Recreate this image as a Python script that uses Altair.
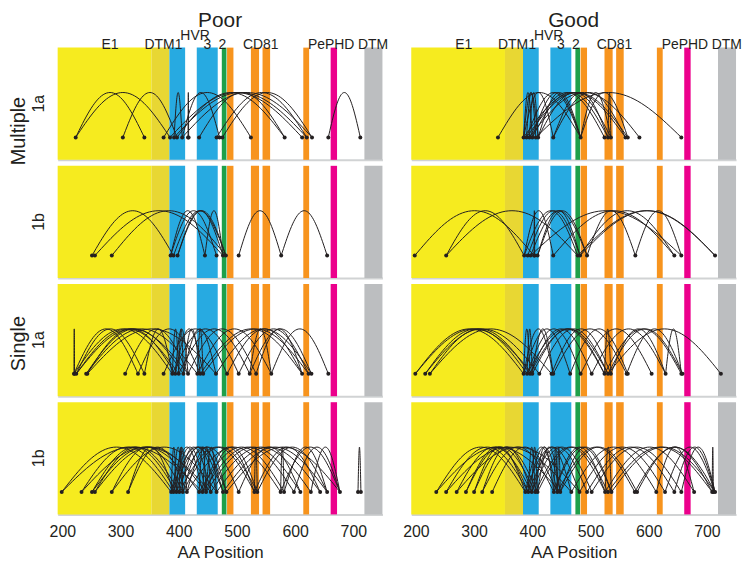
import altair as alt
import numpy as np
import pandas as pd

FONT = "Liberation Sans"
INK = "#231F20"

# ---------------- data ----------------
aa_domain = [192, 750]
tick_values = [200, 300, 400, 500, 600, 700]

region_names = ["E1", "E1 TM", "HVR1", "HVR3", "HVR2", "CD81 a", "CD81 b", "CD81 c", "CD81 d", "PePHD", "E2 TM"]
region_start = [192, 353, 384, 431, 474, 483, 524, 544, 614, 661, 719]
region_end = [353, 384, 411, 467, 482, 494, 538, 557, 624, 672, 750]
region_colors = ["#F6EB1F", "#E8D733", "#27AAE1", "#27AAE1", "#1EA04A", "#F7941E", "#F7941E",
                 "#F7941E", "#F7941E", "#EC008C", "#BCBEC0"]

label_text = ["E1", "DTM", "1", "HVR", "3", "2", "CD81", "PePHD", "DTM"]
label_pos = [282, 367, 400, 428, 449, 475, 541, 662, 734]
label_tier = [0, 0, 0, 1, 0, 0, 0, 0, 0]

col_titles = ["Poor", "Good"]
row_labels = ["1a", "1b", "1a", "1b"]
group_labels = ["Multiple", "Single"]

poor_multiple_1a = [(223, 341), (223, 385), (304, 397), (392, 406), (416, 417), (406, 470), (374, 524),
                    (397, 582), (385, 612), (392, 620), (406, 629), (435, 582), (465, 620), (475, 629),
                    (657, 712)]
poor_multiple_1b = [(251, 391), (256, 476), (285, 481), (386, 465), (391, 481), (398, 476), (445, 476),
                    (386, 445), (503, 576), (576, 655), (398, 481)]
poor_single_1a = [(220, 221), (220, 330), (224, 341), (220, 389), (224, 400), (241, 408), (243, 394),
                  (241, 432), (243, 464), (308, 416), (330, 437), (374, 483), (389, 503), (394, 442),
                  (400, 522), (408, 437), (416, 533), (432, 559), (437, 612), (442, 623), (464, 628),
                  (483, 612), (503, 623), (522, 628), (533, 612), (559, 657), (522, 559), (408, 464),
                  (224, 416), (341, 389), (389, 400), (394, 416), (432, 442), (400, 408)]
poor_single_1b = [(199, 387), (233, 391), (251, 396), (256, 401), (251, 435), (256, 447), (285, 407),
                  (285, 465), (313, 414), (233, 455), (199, 441), (387, 476), (391, 482), (396, 503),
                  (401, 530), (407, 535), (414, 575), (387, 441), (391, 447), (396, 455), (401, 465),
                  (407, 476), (414, 482), (435, 581), (441, 598), (447, 609), (455, 627), (465, 643),
                  (476, 655), (482, 677), (503, 609), (530, 643), (535, 655), (575, 677), (581, 655),
                  (598, 677), (627, 677), (708, 713), (313, 391), (441, 530), (447, 535),
                  (387, 396), (391, 407), (396, 414), (401, 407), (435, 447), (441, 455), (447, 465),
                  (530, 535), (575, 581)]
good_multiple_1a = [(341, 483), (385, 436), (390, 483), (395, 524), (400, 530), (406, 656), (410, 535),
                    (385, 560), (390, 564), (395, 584), (400, 483), (410, 483), (436, 530), (436, 560),
                    (483, 535), (483, 564), (530, 535), (385, 410), (385, 400), (390, 406), (395, 410)]
good_multiple_1b = [(198, 403), (252, 386), (252, 478), (386, 478), (392, 482), (397, 494), (403, 404),
                    (409, 482), (386, 436), (436, 644), (478, 714), (494, 577), (577, 656), (482, 644),
                    (397, 656), (409, 494), (482, 714)]
good_single_1a = [(199, 385), (216, 391), (224, 396), (199, 400), (216, 412), (224, 433), (385, 465),
                  (391, 483), (396, 502), (400, 524), (412, 530), (433, 535), (436, 562), (465, 564),
                  (483, 605), (502, 629), (524, 656), (530, 658), (535, 629), (562, 658), (629, 656),
                  (530, 724), (400, 436), (385, 436), (391, 524), (396, 530), (385, 396), (391, 400),
                  (524, 535)]
good_single_1b = [(235, 388), (252, 393), (270, 399), (286, 405), (300, 409), (314, 437), (331, 443),
                  (235, 448), (252, 467), (270, 481), (286, 393), (300, 388), (314, 399), (388, 481),
                  (393, 494), (399, 502), (405, 525), (409, 530), (437, 536), (443, 576), (448, 580),
                  (467, 613), (481, 628), (494, 644), (502, 656), (525, 678), (530, 709), (536, 714),
                  (576, 714), (580, 709), (613, 678), (628, 714), (644, 714), (656, 714), (709, 711),
                  (388, 443), (393, 448), (399, 467), (405, 437), (409, 448), (437, 525), (448, 536),
                  (437, 443), (443, 448), (525, 536), (393, 405), (399, 409)]

panels = [
    [poor_multiple_1a, good_multiple_1a],
    [poor_multiple_1b, good_multiple_1b],
    [poor_single_1a, good_single_1a],
    [poor_single_1b, good_single_1b],
]

# ---------------- layout / style ----------------
W, H = 327, 113
BASE, RISE = 0.2, 0.4
N_SEG = 40

band_df = pd.DataFrame({"region": region_names, "start": region_start, "end": region_end})
label_df = pd.DataFrame({"label": label_text, "pos": label_pos, "tier": label_tier})


def arc_frame(pairs):
    rows = []
    t = np.linspace(0, 1, N_SEG + 1)
    for i, (a, b) in enumerate(pairs):
        xs = a + (b - a) * t
        ys = BASE + RISE * np.sin(np.pi * t)
        for k in range(len(t)):
            rows.append({"arc": i, "t": float(t[k]), "x": float(xs[k]), "y": float(ys[k])})
    return pd.DataFrame(rows)


def dot_frame(pairs):
    pts = sorted(set([p for pair in pairs for p in pair]))
    return pd.DataFrame({"x": pts, "y": [BASE] * len(pts)})


xscale = alt.Scale(domain=aa_domain, nice=False, zero=False)
yscale = alt.Scale(domain=[0, 1], nice=False, zero=False)


def make_axis(bottom):
    common = dict(values=tick_values, grid=False, ticks=False, tickSize=0,
                  domainColor="#D1D3D4", domainWidth=2)
    if bottom:
        return alt.Axis(title="AA Position", labelFontSize=16, titleFontSize=17, labelPadding=9,
                        titlePadding=5, labelColor=INK, titleColor=INK, titleFontWeight="normal",
                        labelFont=FONT, titleFont=FONT, **common)
    return alt.Axis(title="", labels=False, **common)


def panel(r, c):
    pairs = panels[r][c]
    ax = make_axis(r == 3)
    bands = alt.Chart(band_df).mark_rect().encode(
        x=alt.X("start:Q", scale=xscale, axis=ax),
        x2="end:Q",
        y=alt.value(0),
        y2=alt.value(H),
        color=alt.Color("region:N", scale=alt.Scale(domain=region_names, range=region_colors), legend=None),
    )
    arcs = alt.Chart(arc_frame(pairs)).mark_line(color=INK, strokeWidth=1, interpolate="linear").encode(
        x=alt.X("x:Q", scale=xscale, axis=ax),
        y=alt.Y("y:Q", scale=yscale, axis=None),
        detail="arc:N",
        order="t:Q",
    )
    dots = alt.Chart(dot_frame(pairs)).mark_circle(size=16, color=INK, opacity=1).encode(
        x=alt.X("x:Q", scale=xscale, axis=ax),
        y=alt.Y("y:Q", scale=yscale, axis=None),
    )
    layers = [bands, arcs, dots]
    if r == 0:
        for tier, ypix in [(0, 1), (1, -8)]:
            layers.append(
                alt.Chart(label_df).transform_filter(alt.datum.tier == tier)
                .mark_text(font=FONT, fontSize=14, color=INK, baseline="alphabetic", align="center")
                .encode(x=alt.X("pos:Q", scale=xscale, axis=ax), y=alt.value(ypix), text="label:N")
            )
        layers.append(
            alt.Chart(pd.DataFrame({"label": [col_titles[c]]}))
            .mark_text(font=FONT, fontSize=21, color=INK, baseline="alphabetic", align="center")
            .encode(x=alt.value(W / 2), y=alt.value(-21), text="label:N")
        )
    if c == 0:
        layers.append(
            alt.Chart(pd.DataFrame({"label": [row_labels[r]]}))
            .mark_text(font=FONT, fontSize=16, color=INK, baseline="middle", align="center", angle=270)
            .encode(x=alt.value(-19), y=alt.value(H / 2), text="label:N")
        )
        if r in (0, 2):
            gy = 84 if r == 0 else 60
            layers.append(
                alt.Chart(pd.DataFrame({"label": [group_labels[r // 2]]}))
                .mark_text(font=FONT, fontSize=20, color=INK, baseline="middle", align="center", angle=270)
                .encode(x=alt.value(-39), y=alt.value(gy), text="label:N")
            )
    return alt.layer(*layers).properties(width=W, height=H)


cells = [panel(r, c) for r in range(4) for c in range(2)]
chart = alt.concat(*cells, columns=2, spacing={"row": 6, "column": 29}, bounds="flush").properties(
    padding={"left": 1, "top": 0, "right": 0, "bottom": 0}
).configure_view(stroke=None)

chart.save("out.html", embed_options={"renderer": "svg", "actions": False})
